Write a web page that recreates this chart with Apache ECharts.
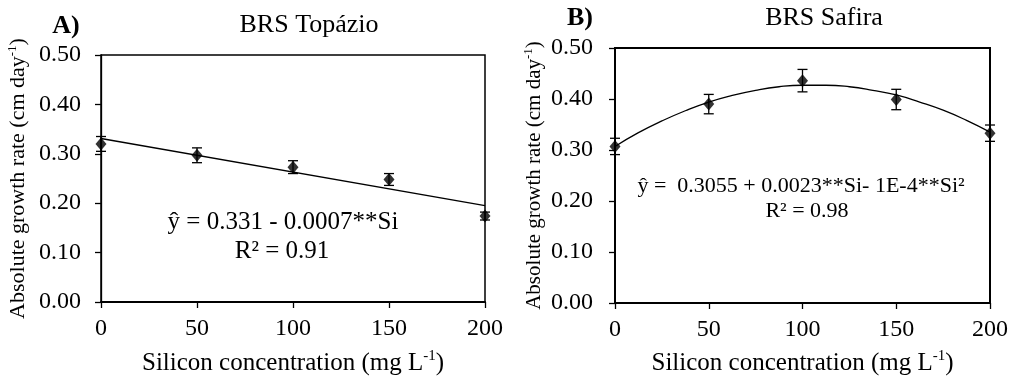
<!DOCTYPE html>
<html>
<head>
<meta charset="utf-8">
<script src="https://cdn.jsdelivr.net/npm/echarts@6/dist/echarts.min.js"></script>
<style>html,body{margin:0;padding:0;background:#fff}#c{width:1011px;height:381px}</style>
</head>
<body>
<div id="c"></div>
<script>
const concentrations = [0, 50, 100, 150, 200];
const topazioMeans = [0.320, 0.297, 0.273, 0.248, 0.174];
const topazioErr = [0.015, 0.015, 0.013, 0.012, 0.008];
const safiraMeans = [0.307, 0.390, 0.436, 0.399, 0.333];
const safiraErr = [0.016, 0.019, 0.022, 0.020, 0.016];
const topazioFitX = [0, 200];
const topazioFitY = [0.331, 0.195];
const safiraFitX = [0, 12.5, 25, 37.5, 50, 62.5, 75, 87.5, 100, 112.5, 125, 137.5, 150, 162.5, 175, 187.5, 200];
const safiraFitY = [0.307, 0.334, 0.357, 0.377, 0.394, 0.407, 0.417, 0.424, 0.427, 0.427, 0.424, 0.417, 0.408, 0.394, 0.378, 0.358, 0.335];
const yTicks = [0, 0.1, 0.2, 0.3, 0.4, 0.5];
const xTicks = [0, 50, 100, 150, 200];

const FONT = 'Liberation Serif';
const chart = echarts.init(document.getElementById('c'), null, {renderer: 'canvas'});

function pairs(xs, ys) { return xs.map((x, i) => [x, ys[i]]); }
function errData(xs, ys, es) { return xs.map((x, i) => [x, ys[i], es[i]]); }

function errorRender(params, api) {
  const x = api.value(0), y = api.value(1), e = api.value(2);
  const t = api.coord([x, y + e]);
  const b = api.coord([x, y - e]);
  const w = 5;
  const style = {stroke: '#000', lineWidth: 1.3};
  return {
    type: 'group',
    children: [
      {type: 'line', shape: {x1: t[0], y1: t[1], x2: b[0], y2: b[1]}, style},
      {type: 'line', shape: {x1: t[0] - w, y1: t[1], x2: t[0] + w, y2: t[1]}, style},
      {type: 'line', shape: {x1: b[0] - w, y1: b[1], x2: b[0] + w, y2: b[1]}, style}
    ]
  };
}

function xAxisDef(idx, gap) {
  return {
    type: 'value', gridIndex: idx, min: 0, max: 200, interval: 50,
    axisLine: {show: true, lineStyle: {color: '#000', width: 2}},
    axisTick: {show: true, inside: false, length: 6, lineStyle: {color: '#000', width: 1.3}},
    axisLabel: {color: '#000', fontFamily: FONT, fontSize: 24, margin: 15,
      formatter: v => xTicks.includes(v) ? String(v) : ''},
    splitLine: {show: false},
    name: '{n|Silicon concentration (mg L}{s|-1}{n|)}',
    nameLocation: 'middle', nameGap: gap,
    nameTextStyle: {rich: {
      n: {fontFamily: FONT, fontSize: 25, color: '#000'},
      s: {fontFamily: FONT, fontSize: 15, color: '#000', verticalAlign: 'top', padding: [0, 0, 14, 0]}
    }}
  };
}
function yAxisDef(idx, gap, fs, margin) {
  return {
    type: 'value', gridIndex: idx, min: 0, max: 0.5, interval: 0.1,
    axisLine: {show: true, lineStyle: {color: '#000', width: idx === 0 ? 1.3 : 2}},
    axisTick: {show: true, inside: false, length: 6, lineStyle: {color: '#000', width: 1.3}},
    axisLabel: {color: '#000', fontFamily: FONT, fontSize: 24, margin: margin,
      formatter: v => v.toFixed(2)},
    splitLine: {show: false},
    name: '{n|Absolute growth rate (cm day}{s|-1}{n|)}',
    nameLocation: 'middle', nameGap: gap, nameRotate: 90,
    nameTextStyle: {rich: {
      n: {fontFamily: FONT, fontSize: fs, color: '#000'},
      s: {fontFamily: FONT, fontSize: Math.round(fs * 0.6), color: '#000', verticalAlign: 'top', padding: [0, 0, 12, 0]}
    }}
  };
}

const option = {
  backgroundColor: '#fff',
  animation: false,
  grid: [
    {left: 101, top: 55, width: 384, height: 250, show: true, borderColor: '#000', borderWidth: 1.5, backgroundColor: 'transparent'},
    {left: 615, top: 48, width: 376, height: 258, show: true, borderColor: '#000', borderWidth: 2, backgroundColor: 'transparent'}
  ],
  xAxis: [xAxisDef(0, 47), xAxisDef(1, 46)],
  yAxis: [yAxisDef(0, 70, 22, 20), yAxisDef(1, 68, 21, 22)],
  series: [
    {type: 'line', xAxisIndex: 0, yAxisIndex: 0, data: pairs(topazioFitX, topazioFitY),
      showSymbol: false, lineStyle: {color: '#000', width: 1.3}, z: 2},
    {type: 'custom', xAxisIndex: 0, yAxisIndex: 0, data: errData(concentrations, topazioMeans, topazioErr),
      renderItem: errorRender, z: 3},
    {type: 'scatter', xAxisIndex: 0, yAxisIndex: 0, data: pairs(concentrations, topazioMeans),
      symbol: 'diamond', symbolSize: [11, 13], itemStyle: {color: '#000'}, z: 4},
    {type: 'line', xAxisIndex: 1, yAxisIndex: 1, data: pairs(safiraFitX, safiraFitY),
      smooth: true, showSymbol: false, lineStyle: {color: '#000', width: 1.3}, z: 2},
    {type: 'custom', xAxisIndex: 1, yAxisIndex: 1, data: errData(concentrations, safiraMeans, safiraErr),
      renderItem: errorRender, z: 3},
    {type: 'scatter', xAxisIndex: 1, yAxisIndex: 1, data: pairs(concentrations, safiraMeans),
      symbol: 'diamond', symbolSize: [11, 13], itemStyle: {color: '#000'}, z: 4}
  ],
  graphic: [
    {type: 'text', x: 66, y: 26, style: {text: 'A)', font: 'bold 26px "Liberation Serif"', fill: '#000', textAlign: 'center', textVerticalAlign: 'middle'}},
    {type: 'text', x: 309, y: 25, style: {text: 'BRS Topázio', font: '26px "Liberation Serif"', fill: '#000', textAlign: 'center', textVerticalAlign: 'middle'}},
    {type: 'text', x: 580, y: 18, style: {text: 'B)', font: 'bold 26px "Liberation Serif"', fill: '#000', textAlign: 'center', textVerticalAlign: 'middle'}},
    {type: 'text', x: 824, y: 18, style: {text: 'BRS Safira', font: '26px "Liberation Serif"', fill: '#000', textAlign: 'center', textVerticalAlign: 'middle'}},
    {type: 'text', x: 283, y: 222, style: {text: 'ŷ = 0.331 - 0.0007**Si', font: '25px "Liberation Serif"', fill: '#000', textAlign: 'center', textVerticalAlign: 'middle'}},
    {type: 'text', x: 282, y: 251, style: {text: 'R² = 0.91', font: '25px "Liberation Serif"', fill: '#000', textAlign: 'center', textVerticalAlign: 'middle'}},
    {type: 'text', x: 801, y: 186, style: {text: 'ŷ =  0.3055 + 0.0023**Si- 1E-4**Si²', font: '22px "Liberation Serif"', fill: '#000', textAlign: 'center', textVerticalAlign: 'middle'}},
    {type: 'text', x: 807, y: 211, style: {text: 'R² = 0.98', font: '22px "Liberation Serif"', fill: '#000', textAlign: 'center', textVerticalAlign: 'middle'}}
  ]
};
chart.setOption(option);
</script>
</body>
</html>
